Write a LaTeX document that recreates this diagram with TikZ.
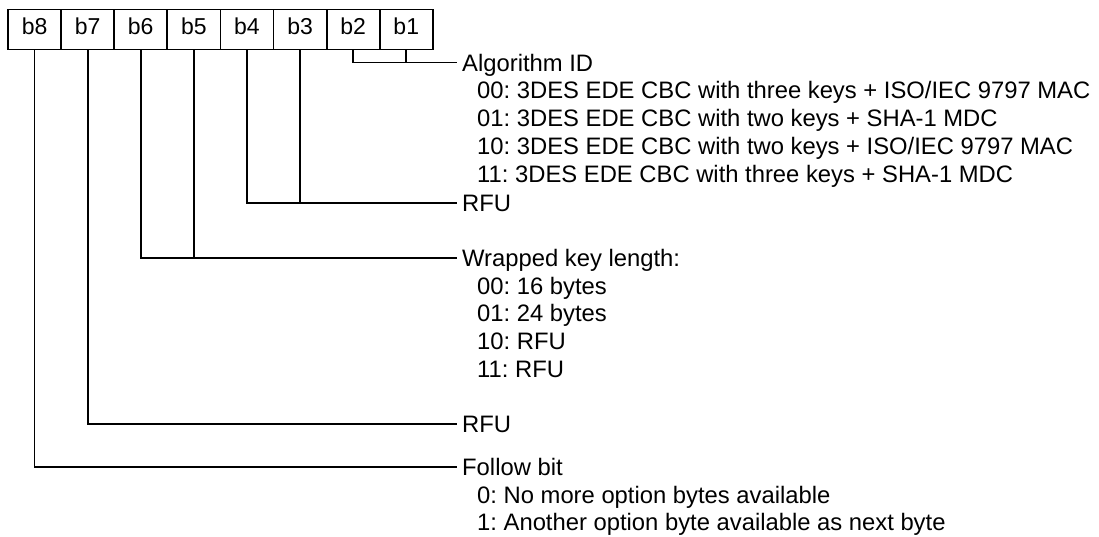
\documentclass[tikz,border=0pt]{standalone}
\usepackage{fontspec}
\setmainfont{Liberation Sans}
\frenchspacing
\begin{document}
\begin{tikzpicture}[x=1pt,y=-1pt,
  bitbox/.style={draw, line width=1.8pt, minimum width=53.1pt, minimum height=40pt, inner sep=0pt},
  bittext/.style={anchor=base, inner sep=0pt, font=\fontsize{23}{27}\selectfont},
  conn/.style={line width=1.8pt},
  lbl/.style={anchor=base west, inner sep=0pt, font=\fontsize{23.8}{28}\selectfont},
]
\useasboundingbox (0,0) rectangle (1099,536);
\foreach \i in {8,...,1} {
  \node[bitbox] (b\i) at ({8+(8-\i)*53.1+26.55},29.5) {};
  \node[bittext] (t\i) at ({8+(8-\i)*53.1+26.55},34.5) {b\i};
}
% junction coordinates at the right end of the connectors
\coordinate (jalg) at (457,62.5);
\coordinate (jrfua) at (457,202.7);
\coordinate (jwrap) at (457,257.7);
\coordinate (jrfub) at (457,423.7);
\coordinate (jfol) at (457,466.7);

\draw[conn] (b2.south) |- (jalg);
\draw[conn] (b1.south) -- (b1.south |- jalg);
\draw[conn] (b4.south) |- (jrfua);
\draw[conn] (b3.south) -- (b3.south |- jrfua);
\draw[conn] (b6.south) |- (jwrap);
\draw[conn] (b5.south) -- (b5.south |- jwrap);
\draw[conn] (b7.south) |- (jrfub);
\draw[conn] (b8.south) |- (jfol);

% labels
\node[lbl] (alg) at (462,71) {Algorithm ID};
\node[lbl] (alg0) at (477,98.8) {00: 3DES EDE CBC with three keys + ISO/IEC 9797 MAC};
\node[lbl] (alg1) at (477,126.6) {01: 3DES EDE CBC with two keys + SHA-1 MDC};
\node[lbl] (alg2) at (477,154.4) {10: 3DES EDE CBC with two keys + ISO/IEC 9797 MAC};
\node[lbl] (alg3) at (477,182.2) {11: 3DES EDE CBC with three keys + SHA-1 MDC};
\node[lbl] (rfua) at (462,211.2) {RFU};
\node[lbl] (wrap) at (462,266.2) {Wrapped key length:};
\node[lbl] (wrap0) at (477,294) {00: 16 bytes};
\node[lbl] (wrap1) at (477,321.8) {01: 24 bytes};
\node[lbl] (wrap2) at (477,349.6) {10: RFU};
\node[lbl] (wrap3) at (477,377.4) {11: RFU};
\node[lbl] (rfub) at (462,432.2) {RFU};
\node[lbl] (fol) at (462,475.2) {Follow bit};
\node[lbl] (fol0) at (477,503) {0: No more option bytes available};
\node[lbl] (fol1) at (477,530.8) {1: Another option byte available as next byte};
\end{tikzpicture}
\end{document}
